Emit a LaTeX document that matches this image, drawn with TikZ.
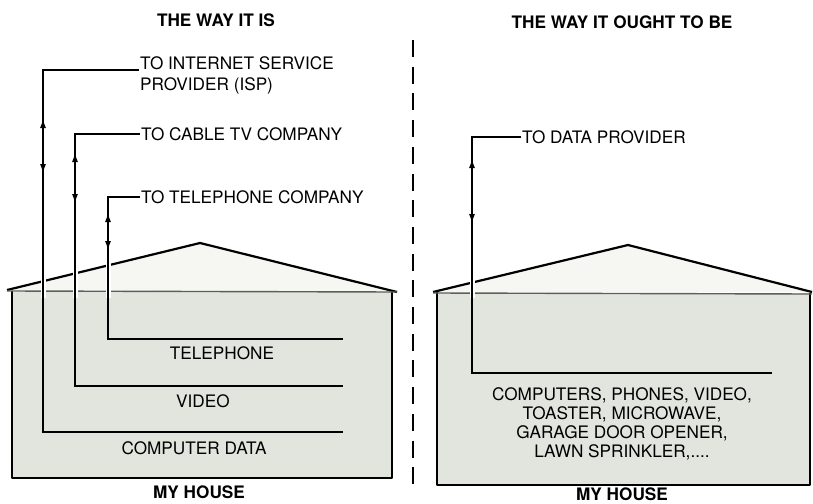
\documentclass[tikz,border=0pt]{standalone}
\usepackage{fontspec}
\setmainfont{TeX Gyre Heros}
\usepackage{xcolor}
\usepackage{tikz}
\usetikzlibrary{arrows.meta,decorations.markings}
\definecolor{fondmur}{RGB}{226,228,222}
\definecolor{fondtoit}{RGB}{246,246,243}
\definecolor{traitplafond}{RGB}{92,94,88}

\begin{document}
\begin{tikzpicture}[
  x = 1pt, y = -1pt,
  titre/.style     = {font=\bfseries\fontsize{17.2}{19}\selectfont, inner sep=1pt},
  etiquette/.style = {font=\fontsize{17.2}{19.3}\selectfont, inner sep=1pt},
  maison/.style    = {draw, line width=2.2pt, line join=round},
  plafond/.style   = {draw=traitplafond, line width=1.4pt},
  cable/.style     = {line width=1.1pt},
  ecart/.style     = {draw=white, line width=5pt, xshift=2.5pt},
  fleches/.style 2 args = {postaction={decorate, decoration={markings,
      mark=at position #1 with {\arrowreversed{Latex[length=9pt,width=6pt]}},
      mark=at position #2 with {\arrow{Latex[length=9pt,width=6pt]}}}}},
  separation/.style = {line width=2.6pt, dash pattern=on 17pt off 9.7pt}
]
\useasboundingbox (0,0) rectangle (813,503);

% titres
\node[titre] (titre1) at (216,20) {THE WAY IT IS};
\node[titre] (titre2) at (622,22) {THE WAY IT OUGHT TO BE};

% maison de gauche
\fill[fondtoit] (7,290) -- (200,243) -- (397,292) -- cycle;
\fill[fondmur] (12,292) rectangle (392,478);
\draw[maison] (12,291) -- (12,478) -- (392,478) -- (392,292);
\draw[maison] (7,290) -- (200,243) -- (397,292);
\draw[plafond] (7,291) -- (397,292);

% maison de droite
\fill[fondtoit] (433,292) -- (628,245) -- (812,292) -- cycle;
\fill[fondmur] (437,293) rectangle (810,485);
\draw[maison] (437,292) -- (437,485) -- (810,485) -- (810,293);
\draw[maison] (433,292) -- (628,245) -- (812,292);
\draw[plafond] (433,293) -- (812,294);

% separation
\draw[separation] (413,40) -- (413,487);

% etiquettes
\node[etiquette, anchor=base west] (isp)  at (139,70) {TO INTERNET SERVICE};
\node[etiquette, anchor=base west] (isp2) at (139,90) {PROVIDER (ISP)};
\node[etiquette, anchor=west] (tv)   at (140,134) {TO CABLE TV COMPANY};
\node[etiquette, anchor=west] (tel)  at (140,197) {TO TELEPHONE COMPANY};
\node[etiquette, anchor=west] (data) at (521,137) {TO DATA PROVIDER};

\node[etiquette] (telephone) at (222,353) {TELEPHONE};
\node[etiquette] (video)     at (203,401) {VIDEO};
\node[etiquette] (donnees)   at (194,448) {COMPUTER DATA};
\node[etiquette, align=center, anchor=north] (appareils) at (622,386)
  {COMPUTERS, PHONES, VIDEO,\\TOASTER, MICROWAVE,\\GARAGE DOOR OPENER,\\LAWN SPRINKLER,....};

\node[titre] (maison1) at (199,492) {MY HOUSE};
\node[titre] (maison2) at (622,494) {MY HOUSE};

% cables
\coordinate (isp-k)  at (43,432);  \coordinate (isp-e)  at (343,432);
\coordinate (tv-k)   at (75,386);  \coordinate (tv-e)   at (343,386);
\coordinate (tel-k)  at (108,339); \coordinate (tel-e)  at (343,339);
\coordinate (data-k) at (472,373); \coordinate (data-e) at (772,373);

\begin{scope}
  \clip (0,0) rectangle (813,297);
  \foreach \n in {isp,tv,tel,data}
    \draw[ecart] (\n-k |- \n.west) -- (\n-k);
\end{scope}

\draw[cable, fleches={145pt}{199pt}] (isp.base west) -| (isp-k) -- (isp-e);
\draw[cable, fleches={84pt}{134pt}]  (tv.west)   -| (tv-k)   -- (tv-e);
\draw[cable, fleches={48pt}{85pt}]   (tel.west)  -| (tel-k)  -- (tel-e);
\draw[cable, fleches={71pt}{135pt}]  (data.west) -| (data-k) -- (data-e);
\end{tikzpicture}
\end{document}
